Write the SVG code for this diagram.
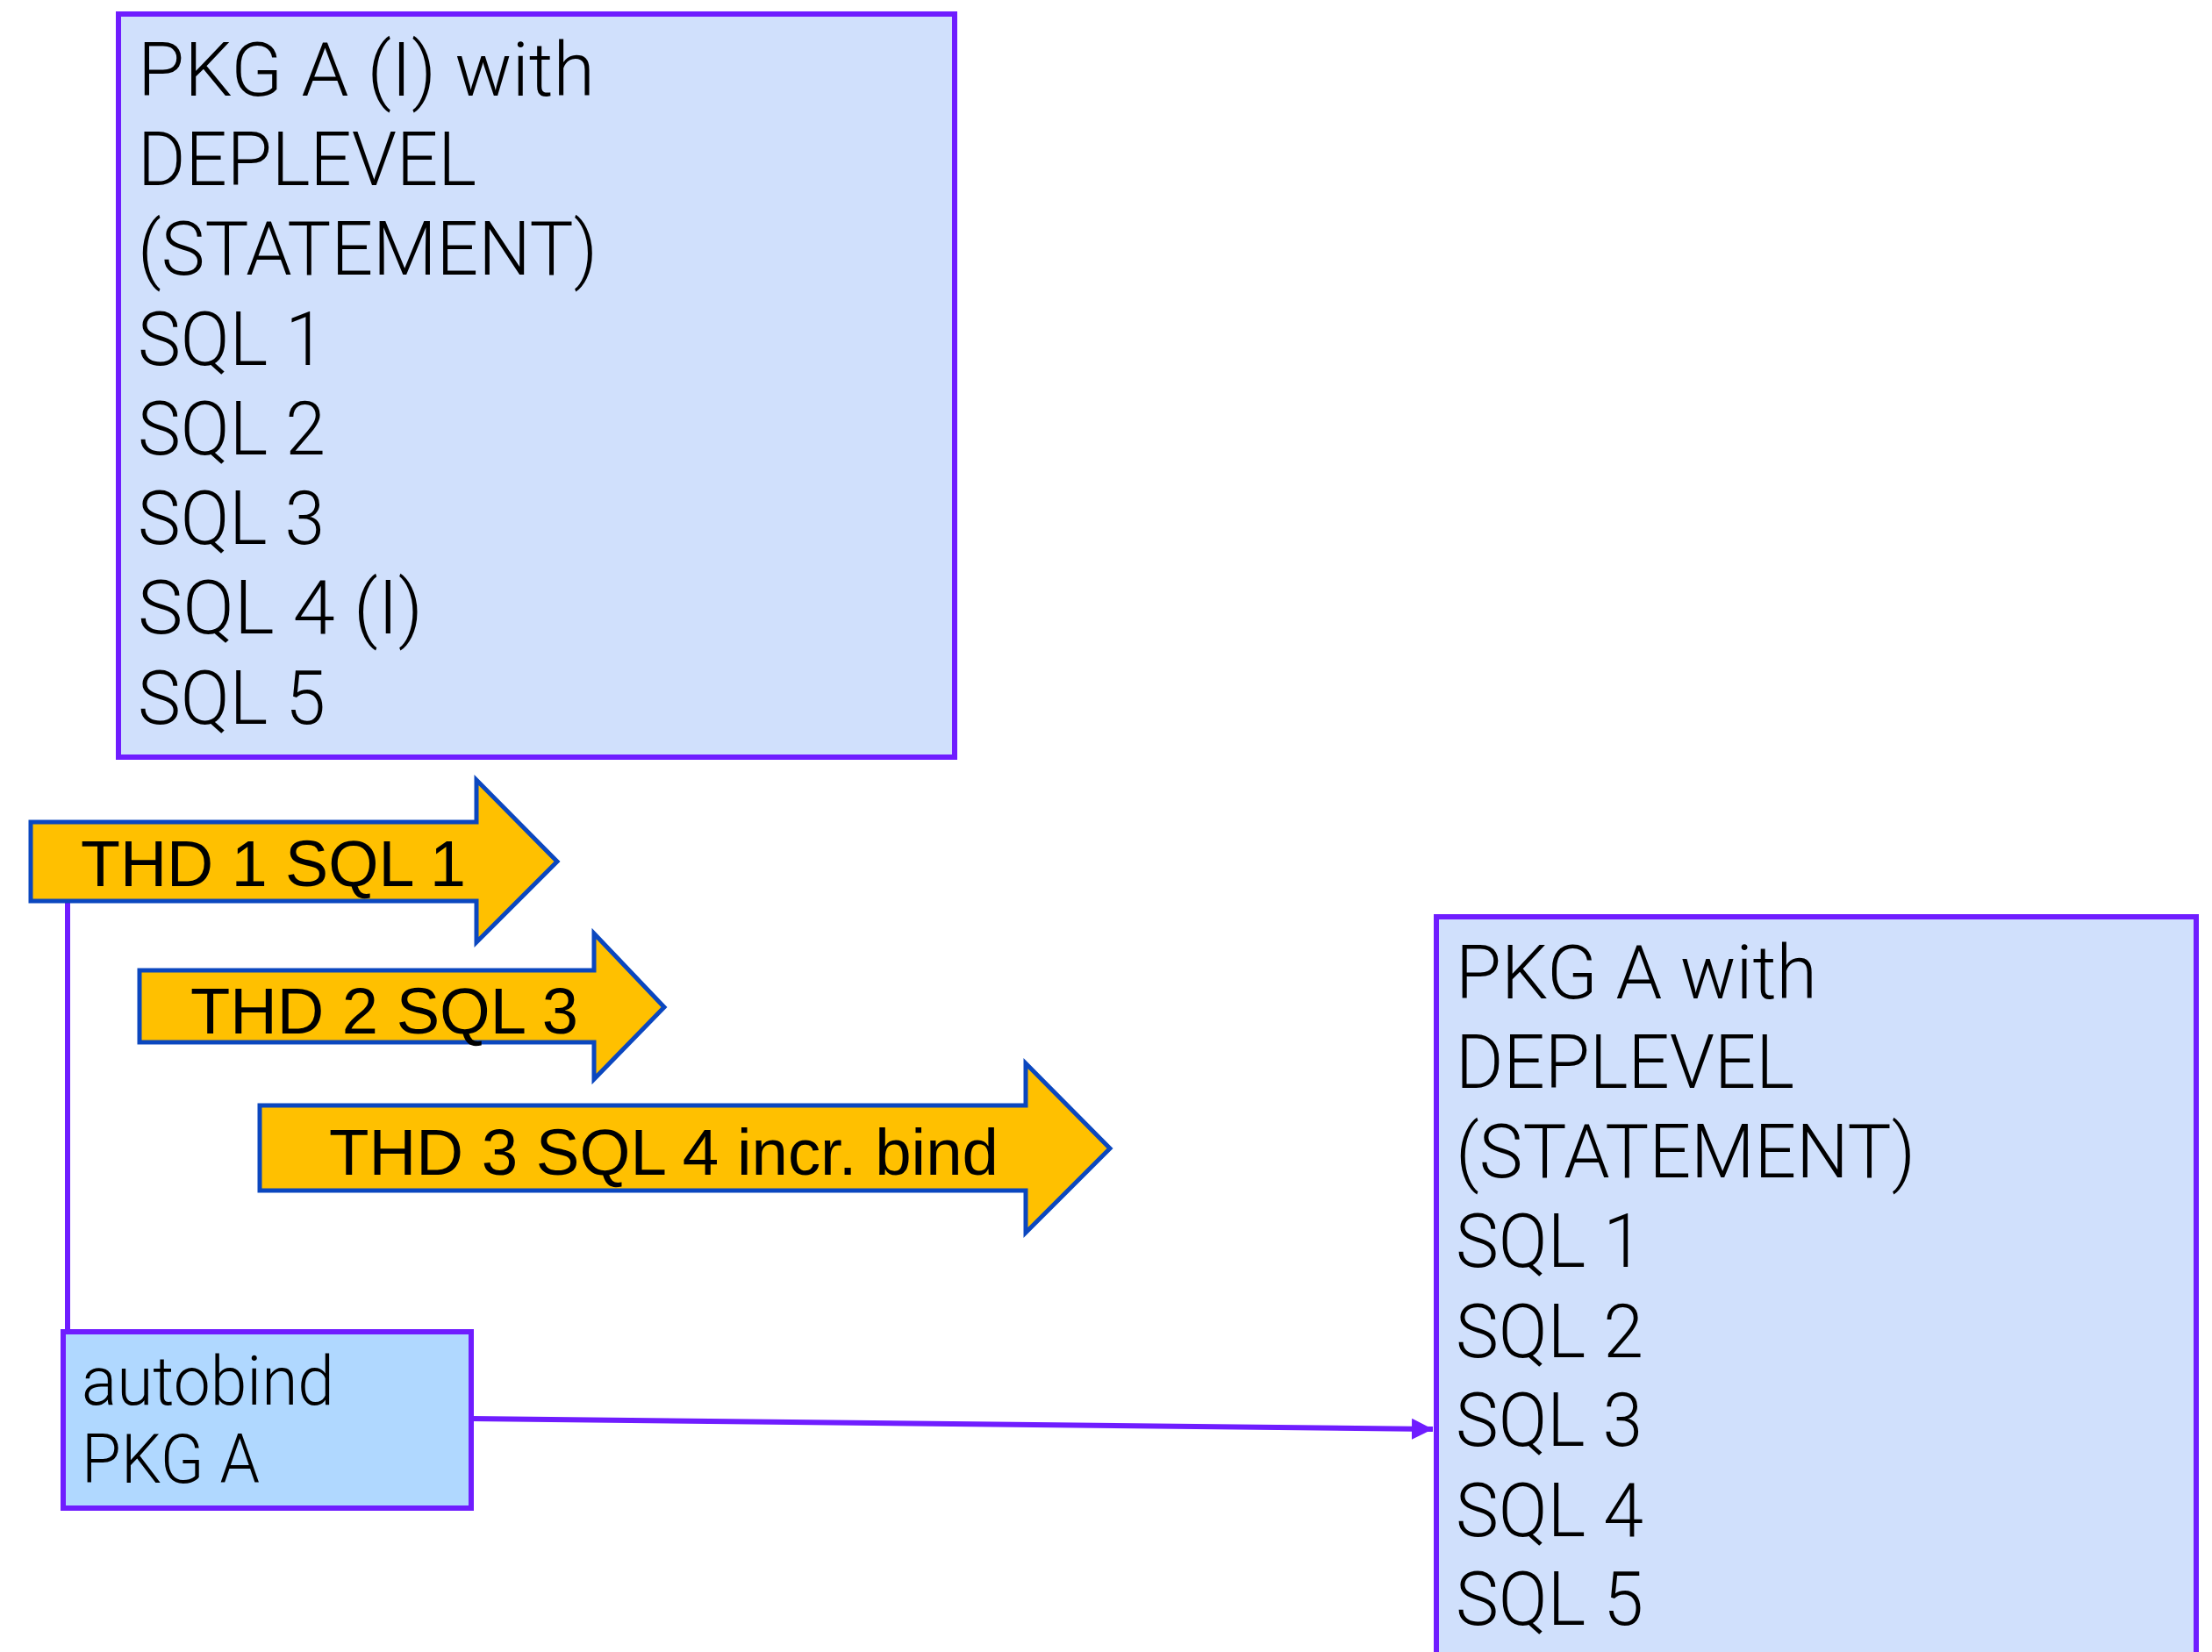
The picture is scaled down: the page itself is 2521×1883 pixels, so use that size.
<svg xmlns="http://www.w3.org/2000/svg" width="2521" height="1883" viewBox="0 0 2521 1883">
<style>
.box{stroke:#6f1dff;stroke-width:6}
.pkg{fill:#d0e0fc}
.auto{fill:#b0d8ff}
.t{font-family:Roboto,"Noto Sans",sans-serif;font-weight:300;font-size:86px;fill:#000}
.ta{font-family:Roboto,"Noto Sans",sans-serif;font-weight:300;font-size:77px;fill:#000}
.arr{fill:#ffc000;stroke:#0b47bf;stroke-width:5}
.at{font-family:"Liberation Sans",Arial,sans-serif;font-size:75px;fill:#000}
.conn{stroke:#6f1dff;stroke-width:6;fill:none}
</style>
<defs>
<marker id="ah" viewBox="0 0 10 10" refX="10" refY="5" markerWidth="4" markerHeight="4" orient="auto" markerUnits="strokeWidth">
<path d="M0,0 L10,5 L0,10 z" fill="#6f1dff"/>
</marker>
</defs>
<g id="connectors">
<line class="conn" x1="77" y1="1020" x2="77" y2="1518"/>
<line class="conn" x1="537" y1="1617" x2="1633" y2="1629" marker-end="url(#ah)"/>
</g>
<g id="pkgA-I">
<rect class="box pkg" x="135" y="16" width="953" height="847"/>
<text class="t" x="157" y="109" textLength="521" lengthAdjust="spacingAndGlyphs">PKG A (I) with</text>
<text class="t" x="157" y="211" textLength="386" lengthAdjust="spacingAndGlyphs">DEPLEVEL</text>
<text class="t" x="157" y="313" textLength="524" lengthAdjust="spacingAndGlyphs">(STATEMENT)</text>
<text class="t" x="157" y="416" textLength="214" lengthAdjust="spacingAndGlyphs">SQL 1</text>
<text class="t" x="157" y="518" textLength="214" lengthAdjust="spacingAndGlyphs">SQL 2</text>
<text class="t" x="157" y="620" textLength="213" lengthAdjust="spacingAndGlyphs">SQL 3</text>
<text class="t" x="157" y="722" textLength="325" lengthAdjust="spacingAndGlyphs">SQL 4 (I)</text>
<text class="t" x="157" y="825" textLength="214" lengthAdjust="spacingAndGlyphs">SQL 5</text>
</g>
<g id="thd1">
<path class="arr" d="M35,937 H543 V889 L635,982 L543,1074 V1027 H35 Z"/>
<text class="at" x="92" y="1010" textLength="439" lengthAdjust="spacingAndGlyphs">THD 1 SQL 1</text>
</g>
<g id="thd2">
<path class="arr" d="M159,1106 H677 V1064 L757,1148 L677,1230 V1188 H159 Z"/>
<text class="at" x="217" y="1178" textLength="442" lengthAdjust="spacingAndGlyphs">THD 2 SQL 3</text>
</g>
<g id="thd3">
<path class="arr" d="M296,1260 H1169 V1212 L1265,1309 L1169,1405 V1357 H296 Z"/>
<text class="at" x="375" y="1339" textLength="763" lengthAdjust="spacingAndGlyphs">THD 3 SQL 4 incr. bind</text>
</g>
<g id="autobind">
<rect class="box auto" x="72" y="1518" width="465" height="201"/>
<text class="ta" x="93" y="1601" textLength="288" lengthAdjust="spacingAndGlyphs">autobind</text>
<text class="ta" x="93" y="1690" textLength="203" lengthAdjust="spacingAndGlyphs">PKG A</text>
</g>
<g id="pkgA">
<rect class="box pkg" x="1637" y="1045" width="866" height="900"/>
<text class="t" x="1659" y="1138" textLength="412" lengthAdjust="spacingAndGlyphs">PKG A with</text>
<text class="t" x="1659" y="1240" textLength="386" lengthAdjust="spacingAndGlyphs">DEPLEVEL</text>
<text class="t" x="1659" y="1342" textLength="524" lengthAdjust="spacingAndGlyphs">(STATEMENT)</text>
<text class="t" x="1659" y="1444" textLength="214" lengthAdjust="spacingAndGlyphs">SQL 1</text>
<text class="t" x="1659" y="1547" textLength="214" lengthAdjust="spacingAndGlyphs">SQL 2</text>
<text class="t" x="1659" y="1648" textLength="213" lengthAdjust="spacingAndGlyphs">SQL 3</text>
<text class="t" x="1659" y="1751" textLength="214" lengthAdjust="spacingAndGlyphs">SQL 4</text>
<text class="t" x="1659" y="1852" textLength="214" lengthAdjust="spacingAndGlyphs">SQL 5</text>
</g>
</svg>
